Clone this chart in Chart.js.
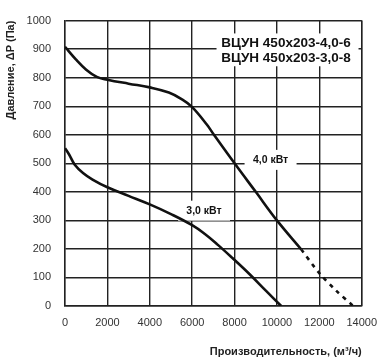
<!DOCTYPE html>
<html>
<head>
<meta charset="utf-8">
<script src="https://cdn.jsdelivr.net/npm/chart.js@4.4.1/dist/chart.umd.min.js"></script>
<style>
  html, body { margin: 0; padding: 0; background: #fff; }
  #wrap { width: 387px; height: 363px; }
</style>
</head>
<body>
<div id="wrap"><canvas id="fanChart" width="387" height="363"></canvas></div>
<script>
// 4,0 kW curve (solid part + dashed tail)
const flow40 = [0, 500, 1000, 1500, 2000, 3000, 4000, 4900, 5500, 6000, 6700, 7000, 8000, 9000, 10000, 11150];
const press40 = [908, 865, 828, 803, 793, 779, 766, 748, 725, 697, 635, 603, 500, 400, 300, 198];
const flow40Dash = [11150, 12000, 12780, 13600];
const press40Dash = [198, 115, 55, 0];

// 3,0 kW curve
const flow30 = [0, 200, 460, 850, 1300, 2000, 3000, 4000, 5000, 6000, 6600, 7200, 7900, 8700, 9500, 10200];
const press30 = [553, 530, 495, 466, 443, 416, 386, 356, 322, 283, 252, 215, 168, 112, 52, 0];

const xTicks = [0, 2000, 4000, 6000, 8000, 10000, 12000, 14000];
const yTicks = [0, 100, 200, 300, 400, 500, 600, 700, 800, 900, 1000];

const modelNames = ['ВЦУН 450x203-4,0-6', 'ВЦУН 450x203-3,0-8'];
const curveLabels = [
    { text: '4,0 кВт', x: 9700, y: 512 },
    { text: '3,0 кВт', x: 6560, y: 334 }
];

function toPoints(xs, ys) {
    return xs.map((x, i) => ({ x: x, y: ys[i] }));
}

const textBoxes = {
    id: 'textBoxes',
    beforeDatasetsDraw(chart) {
        const ctx = chart.ctx;
        const xs = chart.scales.x;
        const ys = chart.scales.y;
        ctx.save();
        // model names box
        const bx1 = xs.getPixelForValue(7150), bx2 = xs.getPixelForValue(13850);
        const by1 = ys.getPixelForValue(955), by2 = ys.getPixelForValue(840);
        ctx.fillStyle = '#fff';
        ctx.fillRect(bx1, by1, bx2 - bx1, by2 - by1);
        ctx.fillStyle = '#111';
        ctx.font = 'bold 13.5px "Liberation Sans", Arial, sans-serif';
        ctx.textAlign = 'right';
        ctx.textBaseline = 'middle';
        ctx.fillText(modelNames[0], xs.getPixelForValue(13480), ys.getPixelForValue(921));
        ctx.fillText(modelNames[1], xs.getPixelForValue(13480), ys.getPixelForValue(869));

        // power labels
        ctx.font = 'bold 10.5px "Liberation Sans", Arial, sans-serif';
        ctx.textAlign = 'center';
        curveLabels.forEach(lbl => {
            const px = xs.getPixelForValue(lbl.x);
            const py = ys.getPixelForValue(lbl.y);
            ctx.fillStyle = '#fff';
            ctx.fillRect(px - 26, py - 10, 52, 20);
            ctx.fillStyle = '#111';
            ctx.fillText(lbl.text, px, py);
        });
        ctx.restore();
    }
};

new Chart(document.getElementById('fanChart'), {
    type: 'line',
    data: {
        datasets: [
            {
                data: toPoints(flow40, press40),
                borderColor: '#111',
                borderWidth: 2.6,
                pointRadius: 0,
                tension: 0.4
            },
            {
                data: toPoints(flow40Dash, press40Dash),
                borderColor: '#111',
                borderWidth: 2.6,
                borderDash: [4, 5],
                pointRadius: 0,
                tension: 0.3
            },
            {
                data: toPoints(flow30, press30),
                borderColor: '#111',
                borderWidth: 2.6,
                pointRadius: 0,
                tension: 0.4
            }
        ]
    },
    options: {
        responsive: false,
        animation: false,
        layout: { padding: { top: 13, right: 19, left: 0, bottom: 0 } },
        plugins: {
            legend: { display: false },
            tooltip: { enabled: false }
        },
        scales: {
            x: {
                type: 'linear',
                min: 0,
                max: 14000,
                afterBuildTicks: axis => { axis.ticks = xTicks.map(v => ({ value: v })); },
                afterFit: axis => { axis.height = 57; },
                grid: { color: '#222', lineWidth: 1.4, drawTicks: false },
                border: { color: '#222', width: 1.4 },
                ticks: {
                    padding: 10,
                    color: '#333',
                    font: { family: '"Liberation Sans", Arial, sans-serif', size: 11 },
                    maxRotation: 0,
                    callback: v => String(v)
                },
                title: {
                    display: true,
                    align: 'end',
                    text: 'Производительность, (м³/ч)',
                    color: '#222',
                    font: { family: '"Liberation Sans", Arial, sans-serif', size: 11, weight: 'bold' },
                    padding: { top: 13 }
                }
            },
            y: {
                min: 0,
                max: 1000,
                afterBuildTicks: axis => { axis.ticks = yTicks.map(v => ({ value: v })); },
                afterFit: axis => { axis.width = 65; },
                grid: { color: '#222', lineWidth: 1.4, drawTicks: false },
                border: { color: '#222', width: 1.4 },
                ticks: {
                    padding: 14,
                    color: '#333',
                    font: { family: '"Liberation Sans", Arial, sans-serif', size: 11 },
                    callback: v => String(v)
                },
                title: {
                    display: true,
                    align: 'end',
                    text: 'Давление, ΔP (Па)',
                    color: '#222',
                    font: { family: '"Liberation Sans", Arial, sans-serif', size: 11, weight: 'bold' },
                    padding: { bottom: 0 }
                }
            }
        }
    },
    plugins: [textBoxes, {
        id: 'rightBorder',
        afterDraw(chart) {
            const a = chart.chartArea;
            const ctx = chart.ctx;
            ctx.save();
            ctx.strokeStyle = '#222';
            ctx.lineWidth = 1.4;
            ctx.beginPath();
            ctx.moveTo(a.right, a.top);
            ctx.lineTo(a.right, a.bottom);
            ctx.stroke();
            ctx.restore();
        }
    }]
});
</script>
</body>
</html>
